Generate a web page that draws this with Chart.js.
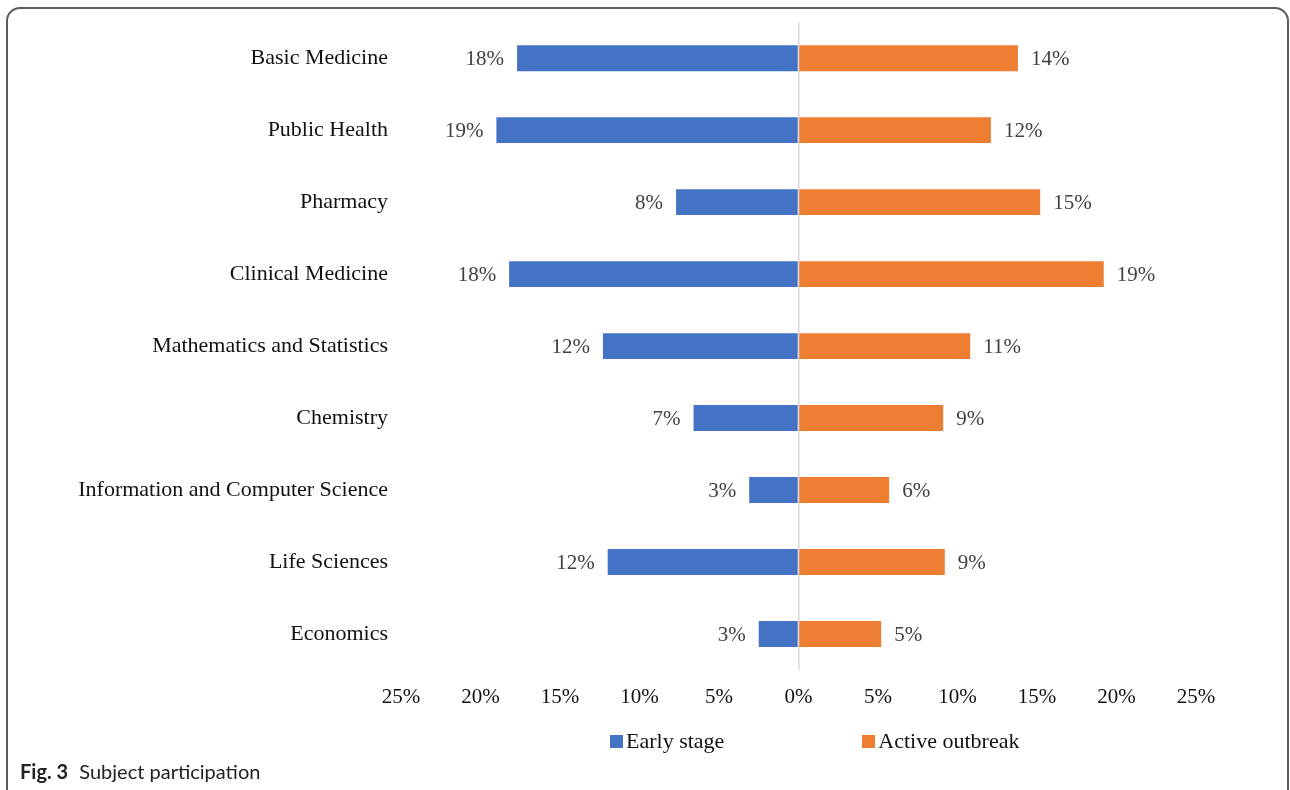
<!DOCTYPE html>
<html>
<head>
<meta charset="utf-8">
<script src="https://cdn.jsdelivr.net/npm/chart.js@4.4.1/dist/chart.umd.min.js"></script>
<style>
  html, body { margin: 0; padding: 0; background: #fff; }
  body { width: 1290px; height: 790px; position: relative; overflow: hidden; }
  .frame {
    position: absolute; left: 6px; top: 7px; width: 1283px; height: 800px;
    border: 2px solid #5e5e5e; border-radius: 14px; box-sizing: border-box;
  }
  #wrap { position: absolute; left: 0; top: -4px; width: 1290px; height: 794px; }
  #legend {
    position: absolute; top: 728px; left: 610px;
    display: flex; gap: 138px;
    font-family: "Liberation Serif", "Times New Roman", serif; font-size: 22px; color: #111;
  }
  #legend .item { display: flex; align-items: center; }
  #legend .box { width: 13px; height: 13px; margin-right: 3px; }
  .caption {
    position: absolute; left: 20px; top: 759px;
    font-family: Lato, "Open Sans", sans-serif; font-size: 20px; color: #222;
  }
  .caption b { font-weight: 700; margin-right: 6px; }
</style>
</head>
<body>
<div class="frame"></div>
<div id="wrap"><canvas id="chart"></canvas></div>
<div id="legend"></div>
<div class="caption"><b>Fig. 3</b> Subject participation</div>
<script>
// categories top to bottom
const subjects = [
  'Basic Medicine', 'Public Health', 'Pharmacy', 'Clinical Medicine',
  'Mathematics and Statistics', 'Chemistry', 'Information and Computer Science',
  'Life Sciences', 'Economics'
];
// share of participants (%)
const earlyStage = [17.7, 19.0, 7.7, 18.2, 12.3, 6.6, 3.1, 12.0, 2.5];
const activeOutbreak = [13.8, 12.1, 15.2, 19.2, 10.8, 9.1, 5.7, 9.2, 5.2];
// printed labels
const earlyLabels = ['18%', '19%', '8%', '18%', '12%', '7%', '3%', '12%', '3%'];
const activeLabels = ['14%', '12%', '15%', '19%', '11%', '9%', '6%', '9%', '5%'];
const seriesNames = ['Early stage', 'Active outbreak'];
const seriesColors = ['#4472C4', '#ED7D31'];

const SERIF = '"Liberation Serif", "Times New Roman", serif';

// draws the percentage next to each bar end
const barLabels = {
  id: 'barLabels',
  afterDatasetsDraw(chart) {
    const ctx = chart.ctx;
    const texts = [earlyLabels, activeLabels];
    ctx.save();
    ctx.font = '21px ' + SERIF;
    ctx.fillStyle = '#404040';
    ctx.textBaseline = 'middle';
    chart.data.datasets.forEach((ds, di) => {
      chart.getDatasetMeta(di).data.forEach((bar, i) => {
        const neg = ds.data[i] < 0;
        ctx.textAlign = neg ? 'right' : 'left';
        ctx.fillText(texts[di][i], bar.x + (neg ? -13 : 13), bar.y + 1);
      });
    });
    ctx.restore();
  }
};

const chart = new Chart(document.getElementById('chart'), {
  type: 'bar',
  data: {
    labels: subjects,
    datasets: [
      { label: seriesNames[0], data: earlyStage.map(v => -v), backgroundColor: seriesColors[0] },
      { label: seriesNames[1], data: activeOutbreak, backgroundColor: seriesColors[1] }
    ]
  },
  options: {
    indexAxis: 'y',
    responsive: true,
    maintainAspectRatio: false,
    animation: false,
    categoryPercentage: 1,
    barPercentage: 0.36,
    layout: { padding: { top: 19, right: 94, bottom: 80, left: 0 } },
    plugins: { legend: { display: false }, tooltip: { enabled: false } },
    scales: {
      x: {
        stacked: true,
        min: -25, max: 25,
        border: { display: false },
        grid: {
          drawTicks: false,
          color: c => c.tick && c.tick.value === 0 ? '#d9d9d9' : 'transparent',
          lineWidth: 1.5
        },
        ticks: {
          stepSize: 5,
          padding: 15,
          color: '#111',
          font: { family: SERIF, size: 21 },
          callback: v => Math.abs(v) + '%'
        },
        afterFit: s => { s.height = 40; }
      },
      y: {
        stacked: true,
        border: { display: false },
        grid: { display: false, drawTicks: false },
        ticks: {
          padding: 13,
          color: '#111',
          font: { family: SERIF, size: 22 }
        },
        afterFit: s => { s.width = 401; }
      }
    }
  },
  plugins: [barLabels]
});

// legend from the datasets
const legend = document.getElementById('legend');
chart.data.datasets.forEach(ds => {
  const item = document.createElement('div');
  item.className = 'item';
  item.innerHTML = '<span class="box" style="background:' + ds.backgroundColor + '"></span>' + ds.label;
  legend.appendChild(item);
});
</script>
</body>
</html>
